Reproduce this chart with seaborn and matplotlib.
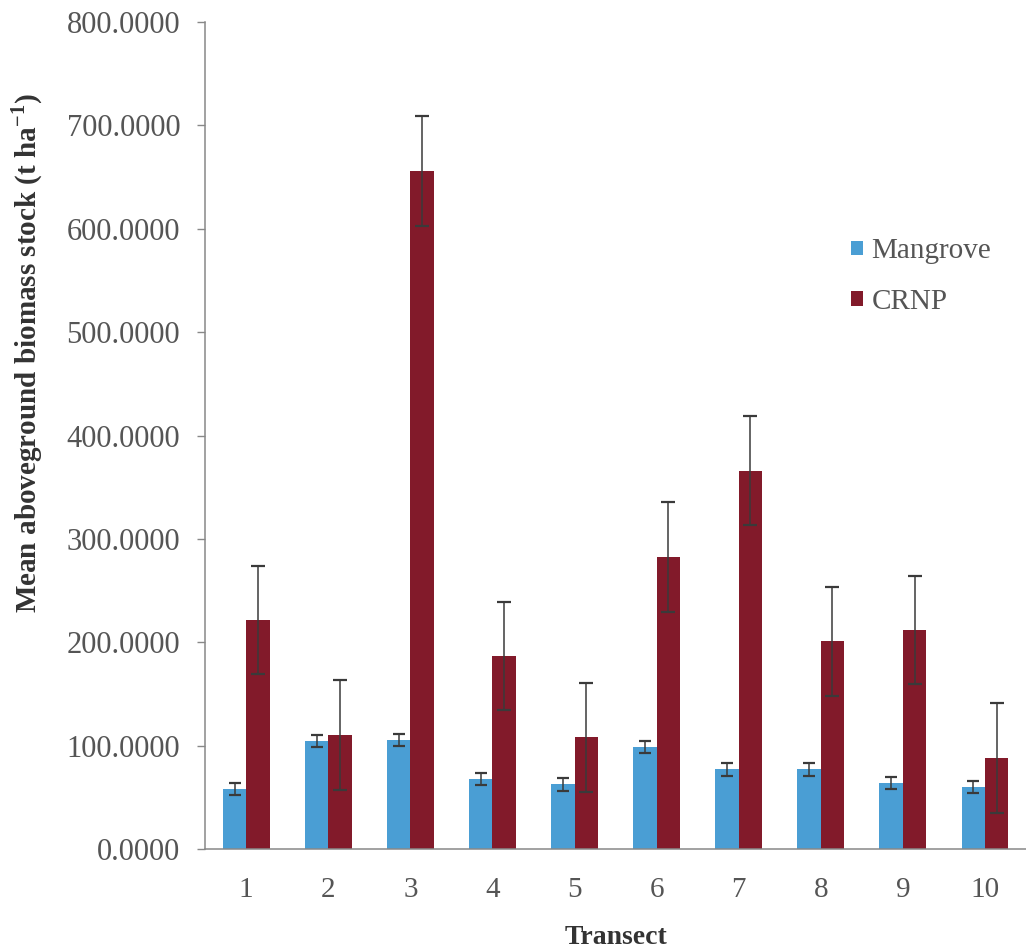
import matplotlib

matplotlib.use("Agg")
import matplotlib.pyplot as plt
import pandas as pd
import seaborn as sns

TRANSECTS = ["1", "2", "3", "4", "5", "6", "7", "8", "9", "10"]
MANGROVE = [58, 104.5, 105.5, 67.5, 62.5, 98.5, 77, 77, 64, 60]
MANGROVE_ERR = [6, 6, 6, 6, 6, 6, 6, 6, 6, 6]
CRNP = [221.5, 110.5, 656, 186.5, 108, 282.5, 366, 201, 212, 88]
CRNP_ERR = [52.5, 53, 53, 52.5, 53, 53, 53, 52.5, 52.5, 53]

SITES = ["Mangrove", "CRNP"]
COLORS = {"Mangrove": "#4a9ed4", "CRNP": "#821a2a"}


def main() -> None:
    sns.set_theme(style="white")
    plt.rcParams["font.family"] = ["Liberation Serif", "DejaVu Serif"]

    df = pd.DataFrame(
        {
            "Transect": TRANSECTS * 2,
            "Biomass": MANGROVE + CRNP,
            "Site": ["Mangrove"] * len(TRANSECTS) + ["CRNP"] * len(TRANSECTS),
        }
    )
    errors = {"Mangrove": MANGROVE_ERR, "CRNP": CRNP_ERR}

    fig = plt.figure(figsize=(10.26, 9.5), dpi=100)
    ax = fig.add_axes([0.2, 0.1063, 0.8, 0.8705])
    sns.barplot(
        data=df,
        x="Transect",
        y="Biomass",
        hue="Site",
        order=TRANSECTS,
        hue_order=SITES,
        palette=COLORS,
        width=0.57,
        saturation=1,
        errorbar=None,
        linewidth=0,
        ax=ax,
    )

    for site, container, caps in zip(SITES, ax.containers, [4, 5]):
        xs = [b.get_x() + b.get_width() / 2 for b in container]
        ys = [b.get_height() for b in container]
        ax.errorbar(
            xs, ys, yerr=errors[site], fmt="none", ecolor="#3a3a3a",
            elinewidth=1.1, capsize=caps, capthick=1.6,
        )

    ax.set_ylim(0, 800)
    ax.set_xlim(-0.5, 9.5)
    ax.set_yticks(range(0, 801, 100))
    ax.set_yticklabels([f"{v:.4f}" for v in range(0, 801, 100)])
    ax.set_xticks(range(len(TRANSECTS)))
    ax.set_xticks([i - 0.5 for i in range(len(TRANSECTS) + 1)], minor=True)
    ax.tick_params(axis="x", which="major", length=0, pad=20, labelsize=21, labelcolor="#555555")
    ax.tick_params(axis="x", which="minor", length=6, width=1, color="#888888", direction="out")
    ax.tick_params(axis="y", length=6, width=1, color="#888888", direction="out",
                   left=True, labelsize=22, labelcolor="#555555", pad=12)

    sns.despine(ax=ax)
    for side in ["left", "bottom"]:
        ax.spines[side].set_color("#888888")
        ax.spines[side].set_linewidth(1.1)

    ax.set_xlabel("Transect", fontsize=20, fontweight="bold", color="#333333", labelpad=16)
    ax.set_ylabel("Mean aboveground biomass stock (t ha$^{\\mathregular{-1}}$)",
                  fontsize=21, fontweight="bold", color="#333333")
    ax.yaxis.set_label_coords(-0.195, 0.6)

    ax.legend(
        frameon=False, loc="upper left", bbox_to_anchor=(0.755, 0.77),
        fontsize=21, handlelength=0.4, handleheight=0.4, handletextpad=0.3,
        labelspacing=0.85, labelcolor="#555555",
    )

    fig.savefig("out.png", dpi=100)
    plt.close(fig)


if __name__ == "__main__":
    main()
